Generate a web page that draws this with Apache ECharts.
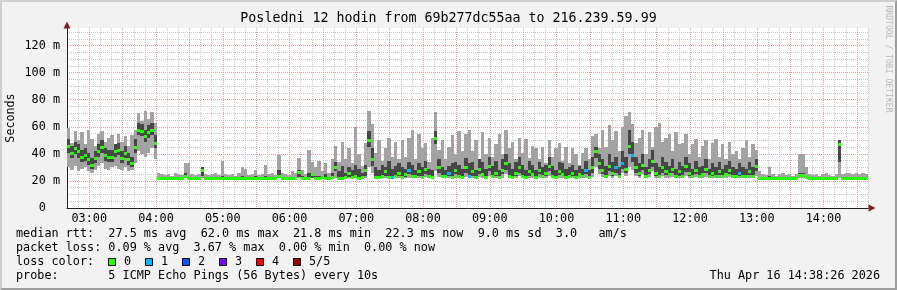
<!DOCTYPE html>
<html><head><meta charset="utf-8">
<script src="https://cdn.jsdelivr.net/npm/echarts@6/dist/echarts.min.js"></script>
<style>
html,body{margin:0;padding:0;background:#f2f2f2;}
#c{width:897px;height:290px;}
#frame{position:absolute;left:0;top:0;width:897px;height:290px;box-sizing:border-box;border-style:solid;border-width:2px;border-color:#cfcfcf #9e9e9e #9e9e9e #cfcfcf;pointer-events:none;}
</style></head><body>
<div id="c"></div><div id="frame"></div>
<script>
// time axis in minutes since 00:00, samples every 3 minutes from 02:40
const startMinute = 160;
const stepMinutes = 3;
const xMin = 160, xMax = 880;
const yMin = 0, yMax = 133;

const rttMin = [
30,28,31,27,29,30,27,26,28,31,33,29,28,30,31,29,28,30,27,28,
33,42,40,38,41,44,36,21.8,21.9,21.8,21.8,21.9,21.8,21.8,21.9,21.8,21.8,21.9,21.8,21.8,
22,21.9,21.8,21.8,21.9,21.8,21.8,21.9,21.8,21.8,21.9,21.8,21.8,21.9,21.8,21.8,21.9,21.8,21.8,21.9,
21.8,21.8,21.9,21.8,21.8,21.9,21.8,21.8,21.9,22,21.8,21.9,21.8,21.9,21.8,21.8,21.9,21.8,21.8,21.9,
22,21.9,22,21.9,22,22,21.9,22,22,22,30,26,22,21.9,22,22.5,22,21.9,22,22.5,
22,22,22.5,22,21.9,22,22,23,22,22,27,23,22,22,22.5,22,22,22,21.9,23,
22,22.5,22,23,22,21.9,24,22,22.5,22,22.5,25,22,22,22,24,22,21.9,22.5,22,
22,22.5,22,22,24,22,21.9,22.5,22,22,22,22.5,22,22,22,22.5,22,23,30,25,
23,22,24,22.5,24,22,26,24,30,28,24,22.5,25,22,23,27,22.5,22,24,22.5,
22,23,22,22.5,22,24,22,22,23,22,22,23,22,22.5,22,22.5,22,22,23,22,
22,22.5,22,22,22.5,22,24,21.8,21.8,21.8,21.8,21.8,21.8,21.8,21.8,21.8,21.8,21.8,21.8,22,
22,21.8,21.8,21.8,21.8,21.8,21.8,21.8,21.8,21.8,21.8,22,21.8,21.8,21.8,21.8,21.8,21.8,21.8,21.8
];
const rttLo = [
41,37,40,37,34,35,32,29,33,38,41,35,34,34,38,39,33,37,32,30,
41,54,53,49,52,54,44,22,22,22,22,22,22,22,22,22.6,22,22,22,22,
24,22,22,22,22,22,22,22,22,22,22,22,22,22,22,22,22,22,22,22,
22,22,22,22.5,22,22,22,22,22,23,22,22,22,22.5,22,22,22,22,22,22,
27,22.2,22.2,22.5,23,22.3,22.5,22.2,22.5,24,45,31,22.5,22.4,22.8,24,22.6,22.3,22.8,23.5,
22.6,23,25,22.8,23,24,22.6,25,23,22.6,47,26,22.8,23,23.5,22.6,25,23,22.6,26,
23,24,22.6,25,23.5,22.6,27,23,24,22.6,25,28,23,22.6,24,26,23,22.6,24,23.5,
22.6,25,23,24,27,23,22.6,24.5,23.5,22.6,23,24,22.6,23.5,23,25,22.6,26,37,29,
25,23,27,24,26,23,29,26,40,34,26,24,28,23,25,30,24,23,26,24.5,
23.5,25.5,22.8,24,23,26.5,24,22.8,25,23,23.5,25.5,22.8,24,23,24.5,22.8,23.5,25,23,
22.8,24,23,22.8,24.5,23,27,22,22,21.9,22,21.9,22,21.9,22,21.9,22,21.9,22,23.5,
23.5,22,21.9,21.9,21.9,21.9,21.9,21.9,21.9,21.9,21.9,34,21.9,21.9,21.9,21.9,21.9,21.9,21.9,21.9
];
const rttMed = [
46,41,44,42,38,39,36,32,37,42,45,39,38,38,42,43,37,41,36,33,
45,58,57,53,56,58,48,22.5,22.3,22.2,22.4,22.3,22.2,22.4,22.3,23.5,22.4,22.3,22.2,22.3,
28,22.4,22.3,22.2,22.3,22.3,22.5,22.2,22.3,22.4,22.3,22.2,22.3,22.4,22.3,22.2,22.3,22.4,22.3,22.2,
22.3,22.2,22.4,24,22.3,22.2,22.3,22.4,22.3,26.5,22.4,22.3,22.5,25,22.4,22.3,22.6,22.4,22.3,23,
30,22.5,22.4,23,26,22.6,24,22.5,23,28,50,36,23,22.8,24,27,23,22.7,24,26,
23,25,28,23.5,24,27,23,29,24,23,52,30,23.5,24,26,23,28,24,23,30,
24,27,23,29,25,23,31,24,26,23,28,33,24,23,26,30,24,23,27,25,
23,28,24,26,31,24,23,27,25,23,24,26,23,25,24,28,23,30,42,33,
28,24,31,26,30,24,33,29,46,39,30,26,32,24,28,35,26,24,30,27,
25,29,23.5,27,24,31,26,23.5,28,24,25,29,23.5,26,24,27,23.5,25,28,24,
23.5,26,24,23.5,27,24,31,22.3,22.1,22,21.9,22.1,22,21.9,22,22.1,22,21.9,22,24.5,
24.5,23,22,21.9,22,22,21.9,22.1,22,21.9,22,47,22.1,22,22,21.9,22,22,21.9,22
];
const rttHi = [
51,46,49,47,43,44,41,37,42,47,50,44,43,43,47,48,42,46,41,38,
51,63,62,58,61,63,54,22.8,22.8,22.7,22.8,22.7,22.8,22.8,22.7,26,23,22.8,22.7,22.8,
30,22.8,22.7,22.8,22.9,22.7,23.5,22.8,22.7,22.8,22.7,23,23.5,23.2,22.7,22.8,23.5,22.7,22.8,23.5,
22.8,23,22.7,28,23,22.8,22.7,23.2,23,28,23.5,22.8,26,26,23.5,24,23,25,22.9,26,
34,27,31,26,30,28,32,29,26,32,57,44,30,28,32,30,35,29,31,33,
30,29,34,32,28,33,30,35,29,28,57,36,30,28,31,33,34,32,29,37,
33,34,28,36,34,29,38,31,35,28,36,40,33,29,34,38,32,28,35,32,
28,34,30,32,38,31,28,34,33,29,30,32,28,31,29,35,28,38,45,40,
36,31,40,34,38,30,42,38,58,49,38,33,40,30,36,43,33,30,38,34,
31,36,29,34,31,38,33,29,35,30,31,36,29,33,30,34,29,32,35,30,
29,33,30,29,34,30,36,23,22.8,22.7,24,22.8,22.7,22.8,23,22.7,22.8,22.7,22.8,26,
26,23,22.7,22.6,22.7,22.6,22.7,22.8,22.7,22.6,22.7,50,22.8,22.7,22.8,22.6,22.7,22.8,22.7,22.6
];
const rttMax = [
59,48,57,50,56,47,58,51,46,55,57,49,52,54,47,55,49,53,46,54,
58,70,64,72,66,71,63,26,25,24.5,25,24,26,25,24.5,33,33,25,24.5,25,
30,25,24.5,25,26,24.5,35,25,24.5,25,24,26,30,29,24.5,25,28,24.5,25,32,
25,26,24.5,39,26,25,24.5,27,26,37,28,25,43,34,30,35,27,33,26,36,
46,34,49,36,44,33,60,40,31,48,72,62,41,50,35,44,52,38,49,36,
50,38,52,58,36,55,44,48,34,52,71,43,50,36,45,54,40,57,42,55,
58,42,50,36,56,40,52,38,47,55,40,58,44,49,36,52,41,51,37,46,
44,36,45,33,50,38,44,48,35,45,33,44,40,32,41,44,36,53,55,44,
58,45,61,50,57,42,60,68,71,62,48,52,58,40,56,45,60,63,49,52,
55,42,56,47,48,55,40,47,51,38,46,50,36,48,51,38,47,36,49,40,
42,36,44,50,38,47,43,27,25,24.5,30,25,24,25,26,24.5,25,24,25,40,
40,30,25,24.5,25,24,25,26,24.5,24,25,50,25,26,25.5,25,26,25,25.5,25
];
// samples where 1 of 5 pings was lost
const lossOneTimes = ['07:31','07:46','08:22','08:40','10:25','10:52','10:58','11:07','12:43'];

const lossLabels = ['0','1','2','3','4','5/5'];
const lossColors = ['#26ff00','#00b8ff','#0059ff','#7e00ff','#ff0000','#a10000'];
const titleText = 'Posledni 12 hodin from 69b277dc55aa to 216.239.59.99';
const yTitle = 'Seconds';
const statLines = [
  'median rtt:  27.5 ms avg  62.0 ms max  21.8 ms min  22.3 ms now  9.0 ms sd  3.0   am/s',
  'packet loss: 0.09 % avg  3.67 % max  0.00 % min  0.00 % now',
  'loss color:',
  'probe:       5 ICMP Echo Pings (56 Bytes) every 10s'
];
const stampText = 'Thu Apr 16 14:38:26 2026';
const sideText = 'RRDTOOL / TOBI OETIKER';

const MONO = '"DejaVu Sans Mono", monospace';
const gridGrey = '#c8c8c8';
const gridRed = '#ee9f9f';
const lightSmoke = '#a3a3a3';
const darkSmoke = '#474747';

const lossLevel = rttMed.map(() => 0);
lossOneTimes.forEach(s => {
  const p = s.split(':');
  const m = (+p[0]) * 60 + (+p[1]);
  const idx = Math.floor((m - startMinute) / stepMinutes);
  if (idx >= 0 && idx < lossLevel.length) lossLevel[idx] = 1;
});

const data = rttMed.map((m, i) => [startMinute + i * stepMinutes, rttMin[i], rttLo[i], m, rttHi[i], rttMax[i], lossLevel[i]]);

function renderItem(params, api) {
  const t = api.value(0);
  const x0 = Math.round(api.coord([t, 0])[0]);
  const x1 = Math.round(api.coord([t + stepMinutes, 0])[0]);
  const w = Math.max(1, x1 - x0);
  const yv = k => api.coord([t, api.value(k)])[1];
  const yMinP = Math.round(yv(1)), yLoP = Math.round(yv(2)), yMedP = yv(3), yHiP = Math.round(yv(4)), yMaxP = Math.round(yv(5));
  const mc = Math.round(yMedP);
  return {
    type: 'group',
    children: [
      {type: 'rect', shape: {x: x0, y: yMaxP, width: w, height: Math.max(1, yMinP - yMaxP)}, style: {fill: lightSmoke}},
      {type: 'rect', shape: {x: x0, y: yHiP, width: w, height: Math.max(1, yLoP - yHiP)}, style: {fill: darkSmoke}},
      {type: 'rect', shape: {x: x0, y: mc - 1, width: w, height: 3}, style: {fill: lossColors[api.value(6)]}}
    ]
  };
}

const pad2 = n => (n < 10 ? '0' : '') + n;

const graphics = [];
graphics.push({type: 'text', x: 448.5, y: 19, style: {text: titleText, font: '13.3px ' + MONO, fill: '#000', textAlign: 'center', textVerticalAlign: 'middle', align: 'center', verticalAlign: 'middle'}});
graphics.push({type: 'text', x: 11, y: 118, rotation: Math.PI / 2, style: {text: yTitle, font: '11.7px ' + MONO, fill: '#000', textAlign: 'center', textVerticalAlign: 'middle', align: 'center', verticalAlign: 'middle'}});
const lineY = [234, 248, 262, 276];
statLines.forEach((s, i) => {
  graphics.push({type: 'text', x: 16, y: lineY[i], style: {text: s, font: '11.8px ' + MONO, fill: '#000', textAlign: 'left', textVerticalAlign: 'middle', align: 'left', verticalAlign: 'middle'}});
});
graphics.push({type: 'text', x: 880, y: lineY[3], style: {text: stampText, font: '11.8px ' + MONO, fill: '#000', textAlign: 'right', textVerticalAlign: 'middle', align: 'right', verticalAlign: 'middle'}});
lossLabels.forEach((lab, k) => {
  graphics.push({type: 'rect', shape: {x: 108.5 + 37 * k, y: 258.5, width: 7, height: 7}, style: {fill: lossColors[k], stroke: '#000', lineWidth: 1}});
  graphics.push({type: 'text', x: 124 + 37 * k, y: lineY[2], style: {text: lab, font: '11.8px ' + MONO, fill: '#000', textAlign: 'left', textVerticalAlign: 'middle', align: 'left', verticalAlign: 'middle'}});
});
graphics.push({type: 'text', x: 888, y: 59, rotation: -Math.PI / 2, style: {text: sideText, font: '8.1px ' + MONO, fill: '#b8b8b8', textAlign: 'center', textVerticalAlign: 'middle', align: 'center', verticalAlign: 'middle'}});

const chart = echarts.init(document.getElementById('c'), null, {renderer: 'canvas', width: 897, height: 290});
chart.setOption({
  animation: false,
  backgroundColor: '#f2f2f2',
  grid: {left: 67, top: 28, width: 801, height: 180, show: true, backgroundColor: '#ffffff', borderWidth: 0, containLabel: false, outerBoundsMode: 'none'},
  xAxis: {
    type: 'value', min: xMin, max: xMax, interval: 10,
    axisLine: {show: true, lineStyle: {color: '#1f1f1f', width: 1}},
    axisTick: {show: false},
    axisLabel: {formatter: v => (v % 60 === 0 ? pad2(v / 60) + ':00' : ''), color: '#000', fontFamily: MONO, fontSize: 11.8, margin: 5},
    splitLine: {show: true, lineStyle: {color: [gridGrey, gridGrey, gridRed], type: [1, 1], width: 1}}
  },
  yAxis: {
    type: 'value', min: yMin, max: yMax, interval: 5,
    axisLine: {show: true, lineStyle: {color: '#1f1f1f', width: 1}},
    axisTick: {show: false},
    axisLabel: {formatter: v => (v % 20 === 0 ? (v === 0 ? '0  ' : v + ' m') : ''), color: '#000', fontFamily: MONO, fontSize: 11.8, margin: 7},
    splitLine: {show: true, showMaxLine: false, lineStyle: {color: [gridRed, gridGrey, gridGrey, gridGrey], type: [1, 1], width: 1}}
  },
  series: [
    {type: 'custom', renderItem: renderItem, data: data, encode: {x: 0, y: 5}, silent: true},
    {type: 'scatter', data: [], silent: true,
     markPoint: {
       silent: true, label: {show: false},
       itemStyle: {color: '#7f1f1f'},
       data: [
         {coord: [xMax, yMin], symbol: 'triangle', symbolRotate: -90, symbolSize: [7, 7], symbolOffset: [4, 0]},
         {coord: [xMin, yMax], symbol: 'triangle', symbolSize: [7, 7], symbolOffset: [0, -3]}
       ]
     }}
  ],
  graphic: graphics
});
</script>
</body></html>
